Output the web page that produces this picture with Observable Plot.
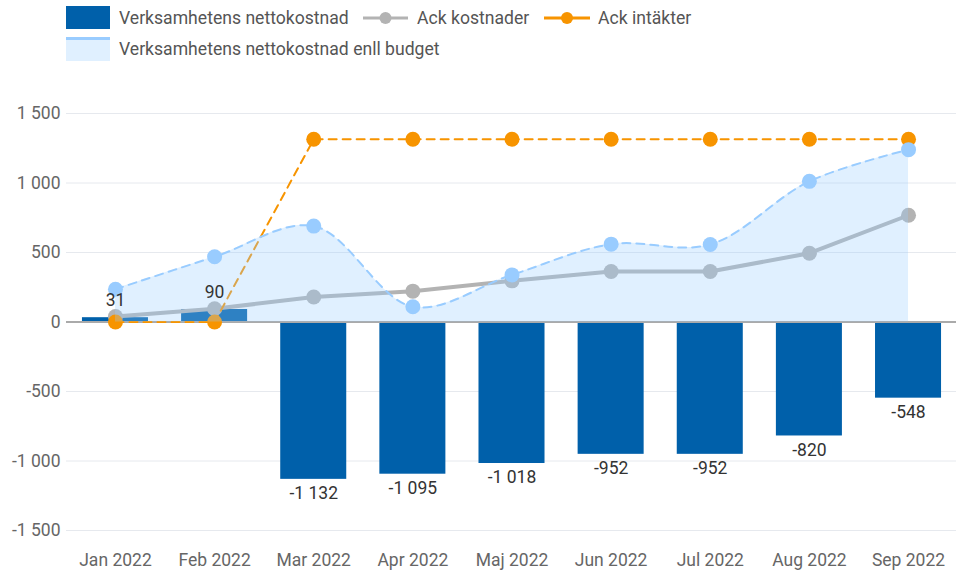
<!DOCTYPE html>
<html>
<head>
<meta charset="utf-8">
<script src="https://cdn.jsdelivr.net/npm/d3@7"></script>
<script src="https://cdn.jsdelivr.net/npm/@observablehq/plot@0.6"></script>
<style>
  html, body { margin: 0; padding: 0; background: #fff; }
  body { width: 956px; height: 575px; overflow: hidden; font-family: Roboto, "Noto Sans", sans-serif; }
  #legend { position: relative; width: 956px; height: 70px; color: #555; font-size: 17.6px; }
  #legend .t { position: absolute; line-height: 20px; white-space: nowrap; }
  #legend .box { position: absolute; }
  #legend svg { position: absolute; }
  #chart svg { display: block; }
</style>
</head>
<body>
<div id="legend"></div>
<div id="chart"></div>
<script>
const months = ["Jan 2022","Feb 2022","Mar 2022","Apr 2022","Maj 2022","Jun 2022","Jul 2022","Aug 2022","Sep 2022"];
const nettokostnad = [31, 90, -1132, -1095, -1018, -952, -952, -820, -548];
const ackKostnader = [40, 95, 180, 222, 296, 363, 363, 495, 768];
const ackIntakter = [0, 0, 1315, 1315, 1315, 1315, 1315, 1315, 1315];
const budget = [236, 469, 690, 110, 339, 560, 558, 1012, 1240];
const yTicks = [-1500, -1000, -500, 0, 500, 1000, 1500];

const seriesNames = ["Verksamhetens nettokostnad", "Ack kostnader", "Ack intäkter", "Verksamhetens nettokostnad enll budget"];
const colors = { bar: "#0060aa", gray: "#b3b3b3", orange: "#f79400", blue: "#99ccff" };

const fmt = d3.formatLocale({decimal: ",", thousands: "\u00a0", grouping: [3], currency: ["", ""], minus: "-"}).format(",");

const rows = months.map((m, i) => ({
  month: m, netto: nettokostnad[i], kost: ackKostnader[i], intakt: ackIntakter[i], budget: budget[i]
}));

// Legend
const legend = document.getElementById("legend");
legend.innerHTML = `
  <div class="box" style="left:66px;top:6px;width:44px;height:23px;background:${colors.bar}"></div>
  <div class="t" style="left:119px;top:8px">${seriesNames[0]}</div>
  <svg style="left:360px;top:8px" width="52" height="20"><line x1="3" x2="48" y1="10" y2="10" stroke="${colors.gray}" stroke-width="3"/><circle cx="25.5" cy="10" r="6" fill="${colors.gray}"/></svg>
  <div class="t" style="left:417px;top:8px">${seriesNames[1]}</div>
  <svg style="left:541px;top:8px" width="52" height="20"><line x1="3" x2="49" y1="10" y2="10" stroke="${colors.orange}" stroke-width="3"/><circle cx="26" cy="10" r="6" fill="${colors.orange}"/></svg>
  <div class="t" style="left:598px;top:8px">${seriesNames[2]}</div>
  <div class="box" style="left:66px;top:37px;width:44px;height:24px;background:rgba(153,204,255,0.3);border-top:3px solid ${colors.blue};box-sizing:border-box"></div>
  <div class="t" style="left:119px;top:39px">${seriesNames[3]}</div>
`;

const pos = rows.filter(d => d.netto >= 0);
const neg = rows.filter(d => d.netto < 0);

const chart = Plot.plot({
  width: 956,
  height: 505,
  marginTop: 43,
  marginBottom: 45,
  marginLeft: 66,
  marginRight: 0,
  style: { fontFamily: "Roboto, 'Noto Sans', sans-serif", fontSize: "17.5px", background: "#fff" },
  x: { domain: months, range: [65.4, 957.6], paddingInner: 0.334, paddingOuter: 0.167, round: false, label: null },
  y: { domain: [-1500, 1500], label: null },
  marks: [
    Plot.ruleY(yTicks.filter(t => t !== 0), { stroke: "#e6e9ee", strokeWidth: 1 }),
    Plot.rectY(rows, { x: "month", y1: 0, y2: "netto", fill: colors.bar }),
    Plot.ruleY([0], { stroke: "#aaaaaa", strokeWidth: 2 }),
    Plot.line(rows, { x: "month", y: "kost", stroke: colors.gray, strokeWidth: 4 }),
    Plot.dot(rows, { x: "month", y: "kost", r: 7.5, fill: colors.gray }),
    Plot.line(rows, { x: "month", y: "intakt", stroke: colors.orange, strokeWidth: 2, strokeDasharray: "8,6" }),
    Plot.dot(rows, { x: "month", y: "intakt", r: 7.5, fill: colors.orange }),
    Plot.areaY(rows, { x: "month", y: "budget", curve: "catmull-rom", fill: colors.blue, fillOpacity: 0.3 }),
    Plot.line(rows, { x: "month", y: "budget", curve: "catmull-rom", stroke: colors.blue, strokeWidth: 2, strokeDasharray: "8,6" }),
    Plot.dot(rows, { x: "month", y: "budget", r: 7.5, fill: colors.blue }),
    Plot.text(pos, { x: "month", y: "netto", text: d => fmt(d.netto), dy: -17, textAnchor: "middle", fill: "#333", fontSize: "17.5px" }),
    Plot.text(neg, { x: "month", y: "netto", text: d => fmt(d.netto), dy: 14, textAnchor: "middle", fill: "#333", fontSize: "17.5px" }),
    Plot.axisY({ ticks: yTicks, tickFormat: fmt, tickSize: 0, tickPadding: 6, fill: "#666", fontSize: "17.5px" }),
    Plot.axisX({ tickSize: 0, tickPadding: 23, fill: "#666", fontSize: "17.5px" })
  ]
});
document.getElementById("chart").appendChild(chart);
</script>
</body>
</html>
